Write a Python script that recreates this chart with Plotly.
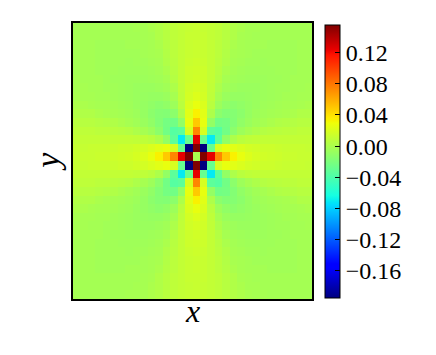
import plotly.graph_objects as go

# quadrant of the field: row = |dy| from centre cell, col = |dx| (0..16)
quadrant = [
    [0.000, 0.156, 0.125, 0.075, 0.050, 0.035, 0.027, 0.022, 0.019, 0.017, 0.016, 0.015, 0.014, 0.014, 0.013, 0.013, 0.012],
    [0.156, -0.194, -0.028, 0.020, 0.027, 0.024, 0.021, 0.018, 0.017, 0.015, 0.015, 0.014, 0.013, 0.013, 0.013, 0.012, 0.012],
    [0.125, -0.028, -0.070, -0.032, -0.009, 0.002, 0.007, 0.009, 0.010, 0.011, 0.011, 0.011, 0.011, 0.011, 0.011, 0.011, 0.011],
    [0.075, 0.020, -0.032, -0.035, -0.023, -0.012, -0.005, -0.001, 0.002, 0.005, 0.006, 0.007, 0.008, 0.008, 0.009, 0.009, 0.009],
    [0.050, 0.027, -0.009, -0.023, -0.022, -0.016, -0.010, -0.006, -0.003, -0.001, 0.001, 0.003, 0.004, 0.005, 0.006, 0.006, 0.007],
    [0.035, 0.024, 0.002, -0.012, -0.016, -0.015, -0.012, -0.008, -0.005, -0.003, -0.002, -0.001, 0.000, 0.001, 0.003, 0.003, 0.004],
    [0.027, 0.021, 0.007, -0.005, -0.010, -0.012, -0.010, -0.008, -0.006, -0.004, -0.003, -0.002, -0.001, -0.001, 0.000, 0.001, 0.002],
    [0.022, 0.018, 0.009, -0.001, -0.006, -0.008, -0.008, -0.007, -0.006, -0.005, -0.004, -0.003, -0.002, -0.002, -0.001, -0.001, 0.000],
    [0.019, 0.017, 0.010, 0.002, -0.003, -0.005, -0.006, -0.006, -0.006, -0.005, -0.004, -0.003, -0.003, -0.002, -0.002, -0.001, -0.001],
    [0.017, 0.015, 0.011, 0.005, -0.001, -0.003, -0.004, -0.005, -0.005, -0.005, -0.004, -0.004, -0.003, -0.002, -0.002, -0.002, -0.001],
    [0.016, 0.015, 0.011, 0.006, 0.001, -0.002, -0.003, -0.004, -0.004, -0.004, -0.004, -0.003, -0.003, -0.003, -0.002, -0.002, -0.002],
    [0.015, 0.014, 0.011, 0.007, 0.003, -0.001, -0.002, -0.003, -0.003, -0.004, -0.003, -0.003, -0.003, -0.003, -0.002, -0.002, -0.002],
    [0.014, 0.013, 0.011, 0.008, 0.004, 0.000, -0.001, -0.002, -0.003, -0.003, -0.003, -0.003, -0.003, -0.003, -0.002, -0.002, -0.002],
    [0.014, 0.013, 0.011, 0.008, 0.005, 0.001, -0.001, -0.002, -0.002, -0.002, -0.003, -0.003, -0.003, -0.003, -0.002, -0.002, -0.002],
    [0.013, 0.013, 0.011, 0.009, 0.006, 0.003, 0.000, -0.001, -0.002, -0.002, -0.002, -0.002, -0.002, -0.002, -0.002, -0.002, -0.002],
    [0.013, 0.012, 0.011, 0.009, 0.006, 0.003, 0.001, -0.001, -0.001, -0.002, -0.002, -0.002, -0.002, -0.002, -0.002, -0.002, -0.002],
    [0.012, 0.012, 0.011, 0.009, 0.007, 0.004, 0.002, 0.000, -0.001, -0.001, -0.002, -0.002, -0.002, -0.002, -0.002, -0.002, -0.002],
]

n_cols = 32
n_rows = 32
centre_col = 16   # counted from the left
centre_row = 15   # counted from the top

cbar_ticks = [-0.16, -0.12, -0.08, -0.04, 0.00, 0.04, 0.08, 0.12]
cbar_labels = ['\u22120.16', '\u22120.12', '\u22120.08', '\u22120.04', '0.00', '0.04', '0.08', '0.12']

# matplotlib "jet"
jet = [
    [0.0, 'rgb(0,0,128)'], [0.11, 'rgb(0,0,255)'], [0.125, 'rgb(0,0,255)'],
    [0.34, 'rgb(0,219,255)'], [0.35, 'rgb(0,230,247)'], [0.375, 'rgb(21,255,226)'],
    [0.64, 'rgb(239,255,8)'], [0.65, 'rgb(247,245,0)'], [0.66, 'rgb(255,236,0)'],
    [0.89, 'rgb(255,19,0)'], [0.91, 'rgb(232,0,0)'], [1.0, 'rgb(128,0,0)'],
]

serif = 'Liberation Serif, DejaVu Serif, serif'

# full grid, top row first
z = [[quadrant[abs(r - centre_row)][abs(c - centre_col)] for c in range(n_cols)]
     for r in range(n_rows)]
zmin = min(min(row) for row in z)
zmax = max(max(row) for row in z)

fig = go.Figure()
fig.add_trace(go.Heatmap(
    z=z, colorscale=jet, zmin=zmin, zmax=zmax, zsmooth=False,
    colorbar=dict(x=1.054, xanchor='left', xpad=0, y=0.5, yanchor='middle', ypad=0,
                  len=0.99, lenmode='fraction', thickness=15,
                  outlinecolor='black', outlinewidth=1,
                  tickvals=cbar_ticks, ticktext=cbar_labels,
                  ticks='inside', ticklen=5, tickcolor='black',
                  tickfont=dict(size=24, color='black', family=serif)),
))

fig.update_xaxes(range=[-0.5, n_cols - 0.5], showticklabels=False, ticks='',
                 showgrid=False, zeroline=False, showline=True, mirror=True,
                 linecolor='black', linewidth=1.5)
fig.update_yaxes(range=[n_rows - 0.5, -0.5], showticklabels=False, ticks='',
                 showgrid=False, zeroline=False, showline=True, mirror=True,
                 linecolor='black', linewidth=1.5)

fig.add_annotation(text='<i>x</i>', xref='paper', yref='paper', x=0.5, y=-0.045,
                   xanchor='center', yanchor='middle', showarrow=False,
                   font=dict(size=32, family=serif, color='black'))
fig.add_annotation(text='<i>y</i>', xref='paper', yref='paper', x=-0.11, y=0.5,
                   xanchor='center', yanchor='middle', showarrow=False, textangle=-90,
                   font=dict(size=34, family=serif, color='black'))

fig.update_layout(width=436, height=355, margin=dict(l=73, r=124, t=23, b=56),
                  paper_bgcolor='white', plot_bgcolor='white',
                  font=dict(family=serif, color='black'))

# drop the browser's default page margin so the figure sits at the window corner
fig.write_html("out.html", config={'displayModeBar': False},
               post_script="document.body.style.margin='0';")
